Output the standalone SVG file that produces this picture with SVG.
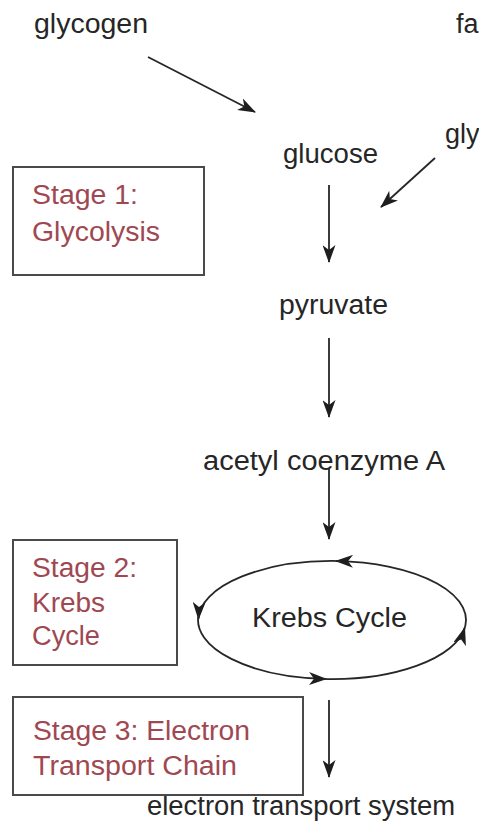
<svg xmlns="http://www.w3.org/2000/svg" width="479" height="834" viewBox="0 0 479 834">
<style>
  .t { font-family: "Liberation Sans", Arial, sans-serif; font-size: 27px; fill: #262626; }
  .r { font-family: "Liberation Sans", Arial, sans-serif; font-size: 27px; fill: #a04852; }
  .box { fill: #ffffff; stroke: #4a4a4a; stroke-width: 2; }
  .ln { fill: none; stroke: #262626; stroke-width: 1.8; }
</style>
<defs>
  <marker id="ah" viewBox="0 0 18 13" refX="17" refY="6.5" markerWidth="18" markerHeight="13" markerUnits="userSpaceOnUse" orient="auto">
    <path d="M0,0 L18,6.5 L0,13 L5,6.5 z" fill="#1e1e1e"/>
  </marker>
</defs>
<rect width="479" height="834" fill="#ffffff"/>

<g id="glycogen"><text class="t" x="34" y="33" textLength="114" lengthAdjust="spacingAndGlyphs">glycogen</text></g>
<g id="fatty-acids"><text class="t" x="456" y="33">fa</text></g>
<g id="glycerol"><text class="t" x="445" y="143">gly</text></g>
<g id="glucose"><text class="t" x="283" y="163" textLength="95" lengthAdjust="spacingAndGlyphs">glucose</text></g>
<g id="pyruvate"><text class="t" x="279" y="314" textLength="109" lengthAdjust="spacingAndGlyphs">pyruvate</text></g>
<g id="acetyl-coa"><text class="t" x="203" y="470" textLength="242" lengthAdjust="spacingAndGlyphs">acetyl coenzyme A</text></g>
<g id="krebs-cycle"><text class="t" x="252" y="627" textLength="155" lengthAdjust="spacingAndGlyphs">Krebs Cycle</text></g>
<g id="ets"><text class="t" x="147" y="815" textLength="308" lengthAdjust="spacingAndGlyphs">electron transport system</text></g>

<g id="stage1">
  <rect class="box" x="13" y="167" width="191" height="108"/>
  <text class="r" x="32" y="204" textLength="106" lengthAdjust="spacingAndGlyphs">Stage 1:</text>
  <text class="r" x="32" y="241" textLength="128" lengthAdjust="spacingAndGlyphs">Glycolysis</text>
</g>
<g id="stage2">
  <rect class="box" x="13" y="540" width="164" height="125"/>
  <text class="r" x="32" y="577" textLength="105" lengthAdjust="spacingAndGlyphs">Stage 2:</text>
  <text class="r" x="32" y="612" textLength="73" lengthAdjust="spacingAndGlyphs">Krebs</text>
  <text class="r" x="32" y="645" textLength="68" lengthAdjust="spacingAndGlyphs">Cycle</text>
</g>
<g id="stage3">
  <rect class="box" x="13" y="697" width="290" height="98"/>
  <text class="r" x="33" y="740" textLength="217" lengthAdjust="spacingAndGlyphs">Stage 3: Electron</text>
  <text class="r" x="33" y="775" textLength="204" lengthAdjust="spacingAndGlyphs">Transport Chain</text>
</g>

<g id="connectors">
  <line class="ln" x1="148" y1="57" x2="255" y2="112" marker-end="url(#ah)"/>
  <line class="ln" x1="435" y1="158" x2="381" y2="207" marker-end="url(#ah)"/>
  <line class="ln" x1="329" y1="185" x2="329" y2="262" marker-end="url(#ah)"/>
  <line class="ln" x1="329" y1="338" x2="329" y2="417" marker-end="url(#ah)"/>
  <line class="ln" x1="329" y1="469" x2="329" y2="539" marker-end="url(#ah)"/>
  <line class="ln" x1="329" y1="700" x2="329" y2="777" marker-end="url(#ah)"/>
  <path class="ln" d="M463.2,632 A134,59 0 0 0 336,561.1" marker-end="url(#ah)"/>
  <path class="ln" d="M340.6,561.1 A134,59 0 0 0 198.5,619" marker-end="url(#ah)"/>
  <path class="ln" d="M198.5,615 A134,59 0 0 0 326,678.9" marker-end="url(#ah)"/>
  <path class="ln" d="M322.4,678.9 A134,59 0 0 0 464.7,628" marker-end="url(#ah)"/>
</g>
</svg>
